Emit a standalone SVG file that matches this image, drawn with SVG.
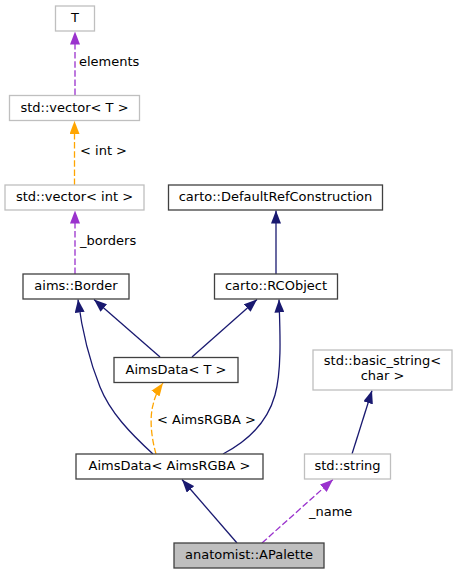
<svg xmlns="http://www.w3.org/2000/svg" width="457" height="575" viewBox="0 0 457 575">
<style>
text{font-family:"DejaVu Sans","Liberation Sans",sans-serif;font-size:13px;fill:#000}
.n rect{fill:#fff;stroke:#404040;stroke-width:1.3}
.ext rect{fill:#fff;stroke:#bfbfbf;stroke-width:1.3}
.c text{text-anchor:middle}
.e{fill:none;stroke-width:1.3}
.nav{stroke:#191970}
.pur{stroke:#9a32cd;stroke-dasharray:6.5,2.6}
.org{stroke:#ffa500;stroke-dasharray:6.5,2.6}
</style>
<defs>
<marker id="aN" markerUnits="userSpaceOnUse" viewBox="0 0 13 10" markerWidth="13" markerHeight="10" refX="13" refY="5" orient="auto"><path d="M0,0L13,5L0,10z" fill="#191970"/></marker>
<marker id="aP" markerUnits="userSpaceOnUse" viewBox="0 0 13 10" markerWidth="13" markerHeight="10" refX="13" refY="5" orient="auto"><path d="M0,0L13,5L0,10z" fill="#9a32cd"/></marker>
<marker id="aO" markerUnits="userSpaceOnUse" viewBox="0 0 13 10" markerWidth="13" markerHeight="10" refX="13" refY="5" orient="auto"><path d="M0,0L13,5L0,10z" fill="#ffa500"/></marker>
</defs>
<rect width="457" height="575" fill="#fff"/>
<g id="connectors">
<path class="e pur" d="M75,95L75,31.5" marker-end="url(#aP)"/>
<text x="79" y="66">elements</text>
<path class="e org" d="M74.5,185L74.5,121" marker-end="url(#aO)"/>
<text x="80" y="155">&lt; int &gt;</text>
<path class="e pur" d="M75,274L75,210.5" marker-end="url(#aP)"/>
<text x="80" y="245">_borders</text>
<path class="e nav" d="M276,274L276,210.5" marker-end="url(#aN)"/>
<path class="e nav" d="M160,357L94,299.5" marker-end="url(#aN)"/>
<path class="e nav" d="M192,357L257,299.5" marker-end="url(#aN)"/>
<path class="e nav" d="M153,454C130,433 110,412 100,387C88,357 82,330 78,299.5" marker-end="url(#aN)"/>
<path class="e nav" d="M223,454C250,440 268,420 275,395C282,370 280,330 279,299.5" marker-end="url(#aN)"/>
<path class="e org" d="M156,454C152,440 149,420 153,405C155,396 158,390 163,383" marker-end="url(#aO)"/>
<text x="157" y="424">&lt; AimsRGBA &gt;</text>
<path class="e nav" d="M352,454L372,390.5" marker-end="url(#aN)"/>
<path class="e nav" d="M237,543L182,479.5" marker-end="url(#aN)"/>
<path class="e pur" d="M262,543L333,479.5" marker-end="url(#aP)"/>
<text x="309" y="516">_name</text>
</g>
<g id="node-T" class="ext c"><rect x="55.5" y="6" width="39" height="25"/><text x="75" y="22">T</text></g>
<g id="node-vectorT" class="ext c"><rect x="9.5" y="95.5" width="130" height="25"/><text x="74.5" y="112">std::vector&lt; T &gt;</text></g>
<g id="node-vectorInt" class="ext c"><rect x="5" y="185" width="139" height="25"/><text x="74.5" y="201">std::vector&lt; int &gt;</text></g>
<g id="node-defaultRef" class="n c"><rect x="168.5" y="185" width="214" height="25"/><text x="275.5" y="201">carto::DefaultRefConstruction</text></g>
<g id="node-border" class="n c"><rect x="23" y="274" width="106" height="25"/><text x="76" y="290">aims::Border</text></g>
<g id="node-rcobject" class="n c"><rect x="214.5" y="274" width="123" height="25"/><text x="276" y="290">carto::RCObject</text></g>
<g id="node-aimsDataT" class="n c"><rect x="114" y="357.5" width="124" height="25"/><text x="176" y="373.5">AimsData&lt; T &gt;</text></g>
<g id="node-basicString" class="ext c"><rect x="313" y="350" width="139" height="40"/><text x="382.5" y="365">std::basic_string&lt;</text><text x="382.5" y="380">char &gt;</text></g>
<g id="node-aimsDataRGBA" class="n c"><rect x="76" y="454" width="187" height="25"/><text x="169.5" y="470">AimsData&lt; AimsRGBA &gt;</text></g>
<g id="node-string" class="ext c"><rect x="304.5" y="454" width="86" height="25"/><text x="347.5" y="470">std::string</text></g>
<g id="node-apalette" class="n c"><rect x="174" y="543" width="150" height="25" style="fill:#bfbfbf"/><text x="249" y="559">anatomist::APalette</text></g>
</svg>
